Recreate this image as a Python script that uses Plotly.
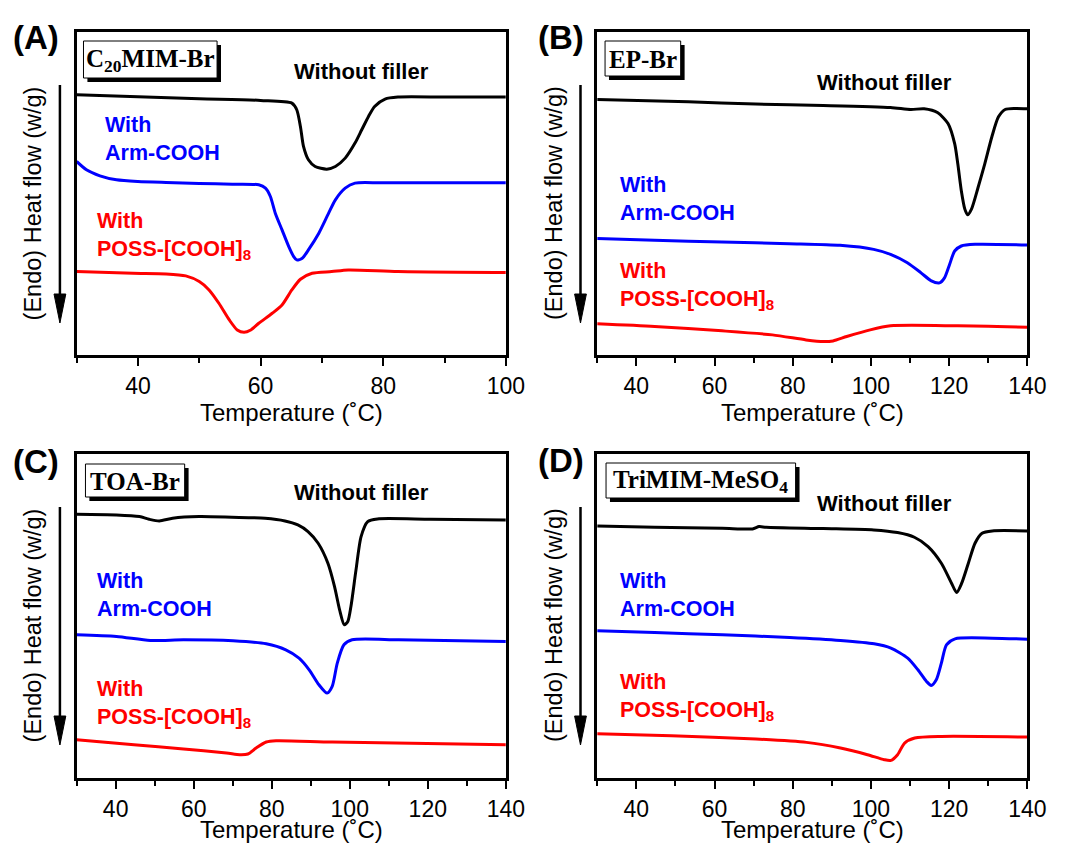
import plotly.graph_objects as go

W, H = 1069, 843

# ---------------- Data (temperature in °C, heat flow in arbitrary units) ----------------
# Panel A: C20MIM-Br
a_black_t = [30, 40, 50, 60, 65.1, 65.9, 66.5, 67.0, 67.8, 68.9, 70.8, 72.2, 73.8, 75.4, 76.5, 77.6, 78.6, 80.3, 82.4, 90, 100]
a_black_v = [78.0, 77.4, 76.8, 76.3, 75.5, 73.5, 68.5, 62.5, 58.5, 56.5, 55.7, 56.5, 59.0, 63.5, 67.5, 71.5, 74.5, 76.7, 77.3, 77.3, 77.3]
a_blue_t = [30, 31.6, 33.8, 36.5, 40, 44.6, 50, 55.4, 59.7, 60.8, 61.6, 62.4, 63.5, 64.6, 65.4, 65.9, 66.8, 67.8, 69.5, 71.1, 72.2, 73.8, 75.4, 79.7, 100]
a_blue_v = [58.0, 55.5, 53.7, 52.5, 52.0, 51.7, 51.4, 51.2, 51.0, 50.0, 47.5, 42.5, 37.5, 32.5, 29.5, 28.5, 29.0, 31.5, 36.5, 42.5, 46.5, 50.0, 51.5, 51.6, 51.6]
a_red_t = [30, 39.2, 44.6, 47.8, 50, 51.6, 53.2, 54.9, 56.2, 57.3, 58.4, 59.7, 61.9, 63.5, 65.1, 66.5, 68.4, 71.6, 74.3, 82.4, 100]
a_red_v = [25.0, 24.5, 24.3, 23.7, 22.0, 19.5, 15.5, 10.5, 7.5, 6.8, 7.5, 9.5, 12.5, 15.0, 19.5, 22.7, 24.5, 25.0, 25.5, 25.0, 24.7]

# Panel B: EP-Br
b_black_t = [30, 53.3, 70.5, 87.8, 105, 110.2, 113.6, 117.1, 119.7, 121.4, 122.2, 123.1, 124.0, 124.7, 125.7, 127.4, 129.1, 130.9, 132.6, 134.3, 136.9, 140]
b_black_v = [76.2, 75.5, 74.8, 74.4, 73.8, 73.2, 73.4, 72.2, 69.0, 63.0, 57.0, 49.0, 43.5, 41.8, 43.5, 50.0, 57.0, 65.0, 71.0, 73.2, 73.5, 73.4]
b_blue_t = [30, 44.7, 61.9, 79.1, 92.1, 100.7, 105, 109.3, 112.8, 115.3, 117.5, 118.8, 120.1, 121.4, 123.1, 126.6, 140]
b_blue_v = [34.7, 34.2, 33.7, 33.2, 32.7, 31.5, 30.0, 27.5, 24.5, 22.2, 21.5, 23.0, 27.0, 31.0, 32.5, 33.0, 32.8]
b_red_t = [30, 44.7, 61.9, 74.8, 83.4, 87.8, 90.3, 93.8, 99.8, 105, 122.2, 140]
b_red_v = [9.3, 8.5, 7.2, 6.0, 4.5, 4.0, 4.2, 5.5, 7.5, 8.7, 8.7, 8.3]

# Panel C: TOA-Br
c_black_t = [30, 40.2, 46.1, 48.6, 51.2, 54.6, 61.4, 69.8, 78.3, 83.4, 86.7, 89.3, 91.9, 94.4, 96.1, 97.4, 98.6, 99.5, 100.3, 101.6, 102.9, 104.6, 107.1, 120.7, 140]
c_black_v = [79.2, 79.0, 78.5, 77.7, 77.2, 78.0, 78.5, 78.3, 78.0, 77.2, 76.0, 74.0, 70.5, 64.5, 57.5, 50.5, 46.0, 47.0, 51.5, 62.5, 72.5, 77.0, 77.8, 77.7, 77.5]
c_blue_t = [30, 40.2, 48.9, 57.4, 70.1, 78.6, 83.6, 87, 89.6, 92.1, 94.2, 95.5, 96.8, 98.5, 100.6, 112.5, 140]
c_blue_v = [43.0, 42.5, 41.3, 41.5, 41.2, 40.3, 38.5, 36.0, 32.5, 28.0, 25.5, 27.5, 34.5, 40.0, 41.5, 41.5, 41.0]
c_red_t = [30, 44.7, 57.4, 68.4, 71.8, 73.9, 76, 78.6, 81.1, 95.5, 140]
c_red_v = [11.5, 10.0, 8.7, 7.5, 7.0, 7.2, 9.0, 10.8, 11.2, 10.8, 10.0]

# Panel D: TriMIM-MeSO4
d_black_t = [30, 44.7, 62, 69.7, 71.4, 73.2, 87.8, 100.7, 106.8, 111.1, 114.6, 118, 120.6, 121.9, 123.2, 124.9, 126.6, 128.4, 131, 140]
d_black_v = [75.7, 75.3, 75.0, 74.8, 75.5, 75.3, 74.9, 74.5, 73.7, 72.3, 69.5, 64.5, 58.5, 55.7, 58.5, 64.5, 70.5, 73.5, 74.2, 74.2]
d_blue_t = [30, 44.7, 62, 79.2, 92.2, 100.8, 105.1, 109.4, 112, 114.2, 115.4, 116.7, 118, 119.3, 121.5, 131, 140]
d_blue_v = [44.2, 43.7, 43.0, 42.2, 41.3, 40.3, 39.0, 36.0, 32.5, 29.0, 27.8, 29.5, 34.5, 40.0, 41.8, 42.0, 41.7]
d_red_t = [30, 49, 70.6, 83.5, 92.2, 99.1, 103.4, 105.1, 106.8, 108.6, 111.2, 118, 140]
d_red_v = [13.3, 12.7, 11.7, 10.7, 9.0, 7.0, 5.5, 5.3, 7.0, 10.5, 12.0, 12.5, 12.3]

panel_letters = ["(A)", "(B)", "(C)", "(D)"]
sample_names = ["C<sub>20</sub>MIM-Br", "EP-Br", "TOA-Br", "TriMIM-MeSO<sub>4</sub>"]
x_ranges = [[30, 100], [30, 140], [30, 140], [30, 140]]
y_ranges = [[0, 96.8], [0, 96.3], [0, 97.3], [0, 97.3]]
label_black = "Without filler"
label_blue = "With<br>Arm-COOH"
label_red = "With<br>POSS-[COOH]<sub>8</sub>"
x_title = "Temperature (˚C)"
y_title = "(Endo) Heat flow (w/g)"

series = [
    [(a_black_t, a_black_v), (a_blue_t, a_blue_v), (a_red_t, a_red_v)],
    [(b_black_t, b_black_v), (b_blue_t, b_blue_v), (b_red_t, b_red_v)],
    [(c_black_t, c_black_v), (c_blue_t, c_blue_v), (c_red_t, c_red_v)],
    [(d_black_t, d_black_v), (d_blue_t, d_blue_v), (d_red_t, d_red_v)],
]
colors = ["#000000", "#0000FF", "#FF0000"]

# ---------------- Layout geometry (pixels) ----------------
def px(x):
    return x / W

def py(y):
    return 1 - y / H

# plot boxes: left, right, top, bottom
boxes = [(78, 515, 32, 355), (608, 1046, 32, 355), (78, 515, 454, 778), (608, 1046, 454, 778)]
title_off = [57, 57, 51, 51]
# sample name boxes: x0, x1, y0, y1
name_boxes = [(85, 221, 41, 78), (616, 693, 41, 76), (87, 188, 464, 497), (617, 810, 463, 498)]
letter_pos = [(11, 38), (546, 38), (11, 461), (546, 460)]
black_lab = [(368, 72), (901, 82), (368, 492), (901, 504)]
blue_lab = [(105, 139), (629, 199), (97, 595), (629, 595)]
red_lab = [(97, 235.5), (629, 285.5), (97, 703.5), (629, 697)]

fig = go.Figure()
layout = dict(width=W, height=H, margin=dict(l=0, r=0, t=0, b=0),
              paper_bgcolor="white", plot_bgcolor="white", showlegend=False)
shapes, annotations = [], []

font_sans = "Liberation Sans, Arial, sans-serif"
font_serif = "Liberation Serif, Times New Roman, serif"

for i in range(4):
    xa = "x" if i == 0 else f"x{i+1}"
    ya = "y" if i == 0 else f"y{i+1}"
    xkey = "xaxis" if i == 0 else f"xaxis{i+1}"
    ykey = "yaxis" if i == 0 else f"yaxis{i+1}"
    for (t, v), c in zip(series[i], colors):
        fig.add_trace(go.Scatter(x=t, y=v, mode="lines", xaxis=xa, yaxis=ya,
                                 line=dict(color=c, width=3, shape="spline", smoothing=0.7),
                                 hoverinfo="skip"))
    l, r, tp, b = boxes[i]
    layout[xkey] = dict(domain=[px(l), px(r)], anchor=ya, range=x_ranges[i],
                        showgrid=False, zeroline=False, showline=True, linecolor="black",
                        linewidth=3, mirror=True, ticks="outside", ticklen=8, tickwidth=2,
                        tickcolor="black", dtick=20, tick0=0,
                        tickfont=dict(family=font_sans, size=23, color="black"),
                        minor=dict(ticks="outside", ticklen=5, tickwidth=2, dtick=10,
                                   tick0=0, tickcolor="black", showgrid=False))
    layout[ykey] = dict(domain=[py(b), py(tp)], anchor=xa, range=y_ranges[i],
                        showgrid=False, zeroline=False, showline=True, linecolor="black",
                        linewidth=3, mirror=True, ticks="", showticklabels=False)

    # x title
    annotations.append(dict(text=x_title, x=px((l + r) / 2), y=py(b + title_off[i]), xref="paper", yref="paper",
                            showarrow=False, xanchor="center", yanchor="middle",
                            font=dict(family=font_sans, size=24, color="black")))
    # y title
    annotations.append(dict(text=y_title, x=px(l - 44), y=py(tp + 171), xref="paper", yref="paper",
                            showarrow=False, xanchor="center", yanchor="middle", textangle=-90,
                            font=dict(family=font_sans, size=23.5, color="black")))
    # arrow (line + head)
    ax = l - 17
    shapes.append(dict(type="line", xref="paper", yref="paper", x0=px(ax), x1=px(ax),
                       y0=py(tp + 53), y1=py(tp + 272), line=dict(color="black", width=2.5)))
    shapes.append(dict(type="path", xref="paper", yref="paper",
                       path=f"M {px(ax-6)},{py(tp+262)} L {px(ax+6)},{py(tp+262)} L {px(ax)},{py(tp+291)} Z",
                       fillcolor="black", line=dict(color="black", width=1)))
    # sample name box with shadow
    x0, x1, y0, y1 = name_boxes[i]
    shapes.append(dict(type="rect", xref="paper", yref="paper", x0=px(x0 + 4), x1=px(x1 + 4),
                       y0=py(y0 + 4), y1=py(y1 + 4), fillcolor="black", line=dict(width=0)))
    shapes.append(dict(type="rect", xref="paper", yref="paper", x0=px(x0), x1=px(x1),
                       y0=py(y0), y1=py(y1), fillcolor="white", line=dict(color="black", width=1)))
    annotations.append(dict(text=f"<b>{sample_names[i]}</b>", x=px((x0 + x1) / 2), y=py((y0 + y1) / 2 + 1),
                            xref="paper", yref="paper", showarrow=False, xanchor="center", yanchor="middle",
                            font=dict(family=font_serif, size=25, color="black")))
    # panel letter
    lx, ly = letter_pos[i]
    annotations.append(dict(text=f"<b>{panel_letters[i]}</b>", x=px(lx), y=py(ly), xref="paper", yref="paper",
                            showarrow=False, xanchor="left", yanchor="middle",
                            font=dict(family=font_sans, size=33, color="black")))
    # curve labels
    bx, by = black_lab[i]
    annotations.append(dict(text=f"<b>{label_black}</b>", x=px(bx), y=py(by), xref="paper", yref="paper",
                            showarrow=False, xanchor="center", yanchor="middle",
                            font=dict(family=font_sans, size=22, color="black")))
    for (lx2, ly2), txt, c in [(blue_lab[i], label_blue, "#0000FF"), (red_lab[i], label_red, "#FF0000")]:
        annotations.append(dict(text=f"<b>{txt}</b>", x=px(lx2), y=py(ly2), xref="paper", yref="paper",
                                showarrow=False, xanchor="left", yanchor="middle", align="left",
                                font=dict(family=font_sans, size=21.5, color=c)))

layout["shapes"] = shapes
layout["annotations"] = annotations
fig.update_layout(**layout)
fig.write_html("out.html")
